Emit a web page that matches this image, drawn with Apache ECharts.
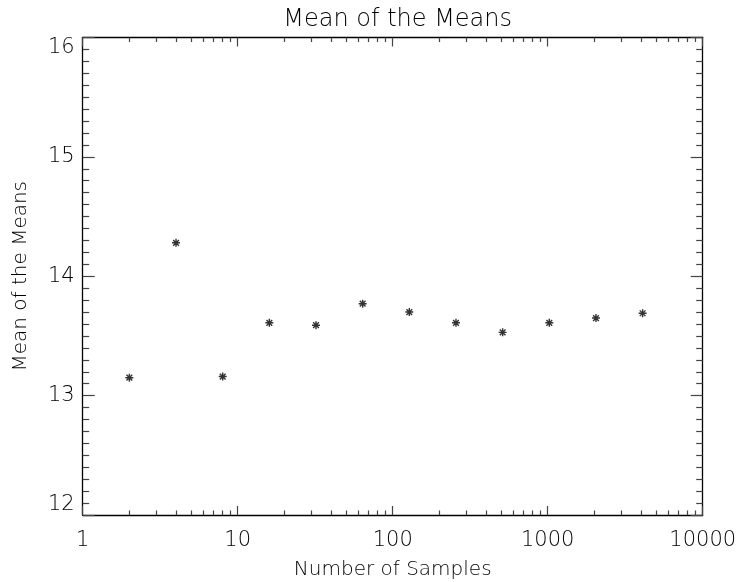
<!DOCTYPE html>
<html>
<head>
<meta charset="utf-8">
<script src="https://cdn.jsdelivr.net/npm/echarts@6/dist/echarts.min.js"></script>
<style>html,body{margin:0;padding:0;background:#fff;}#c{width:736px;height:582px;}</style>
</head>
<body>
<div id="c"></div>
<script>
const samples = [2, 4, 8, 16, 32, 64, 128, 256, 512, 1024, 2048, 4096];
const meanOfMeans = [13.15, 14.28, 13.16, 13.61, 13.59, 13.77, 13.70, 13.61, 13.53, 13.61, 13.65, 13.69];
const titleText = 'Mean of the Means';
const xName = 'Number of Samples';
const yName = 'Mean of the Means';

const FONT = 'DejaVu Sans';
const TXT = '#000';
const star = 'path://M-0.9,-5L0.9,-5L0.9,5L-0.9,5Z M-5,-0.9L5,-0.9L5,0.9L-5,0.9Z M-4.2,-3.0L-3.0,-4.2L4.2,3.0L3.0,4.2Z M3.0,-4.2L4.2,-3.0L-3.0,4.2L-4.2,3.0Z';

const chart = echarts.init(document.getElementById('c'), null, {renderer: 'canvas'});
const axisLine = {show: true, lineStyle: {color: '#000', width: 1.3}};
const xBase = {
  type: 'log', logBase: 10, min: 1, max: 10000,
  axisLine: axisLine,
  splitLine: {show: false},
  axisTick: {show: true, inside: true, length: 9, lineStyle: {color: '#444', width: 1.2}},
  minorTick: {show: true, splitNumber: 9, length: 4.5, lineStyle: {color: '#444', width: 1.2}}
};
const yBase = {
  type: 'value', min: 12, max: 16, interval: 1,
  axisLine: axisLine,
  splitLine: {show: false},
  axisTick: {show: true, inside: true, length: 12, lineStyle: {color: '#444', width: 1.2}},
  minorTick: {show: true, splitNumber: 10, length: 6.5, lineStyle: {color: '#444', width: 1.2}}
};

chart.setOption({
  animation: false,
  backgroundColor: '#fff',
  title: {
    text: titleText, left: 392.7, top: 3, textAlign: 'center',
    textStyle: {fontFamily: FONT, fontWeight: 200, fontSize: 24, color: TXT}
  },
  grid: {left: 82.7, right: 33.3, top: 37.5, bottom: 67, containLabel: false, outerBoundsMode: 'none'},
  xAxis: [
    Object.assign({}, xBase, {
      position: 'bottom',
      name: xName, nameLocation: 'middle', nameGap: 45,
      nameTextStyle: {fontFamily: FONT, fontWeight: 200, fontSize: 20, color: TXT},
      axisLabel: {show: true, margin: 15, fontFamily: FONT, fontWeight: 200, fontSize: 21, color: TXT,
        formatter: v => String(Math.round(v))}
    }),
    Object.assign({}, xBase, {position: 'top', axisLabel: {show: false}})
  ],
  yAxis: [
    Object.assign({}, yBase, {
      position: 'left',
      name: yName, nameLocation: 'middle', nameGap: 52, nameRotate: 90,
      nameTextStyle: {fontFamily: FONT, fontWeight: 200, fontSize: 20, color: TXT},
      axisLabel: {show: true, margin: 8, fontFamily: FONT, fontWeight: 200, fontSize: 21, color: TXT,
        verticalAlignMinLabel: 'bottom', verticalAlignMaxLabel: 'top'}
    }),
    Object.assign({}, yBase, {position: 'right', axisLabel: {show: false}})
  ],
  series: [{
    type: 'scatter',
    xAxisIndex: 0, yAxisIndex: 0,
    data: samples.map((s, i) => [s, meanOfMeans[i]]),
    symbol: star, symbolSize: 8,
    itemStyle: {color: '#000'}
  }]
});
</script>
</body>
</html>
